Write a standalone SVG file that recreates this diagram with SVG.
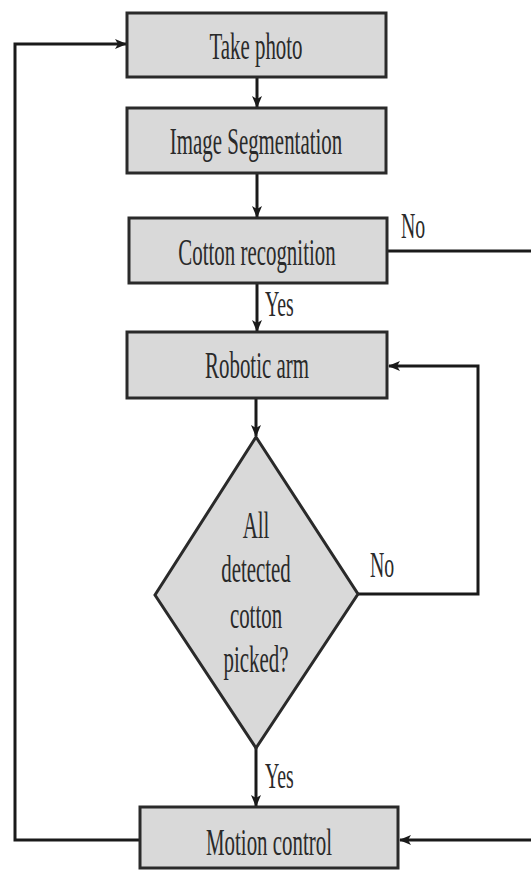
<svg xmlns="http://www.w3.org/2000/svg" width="531" height="870" viewBox="0 0 531 870">
<style>
.box{fill:#d9d9d9;stroke:#2a2a2a;stroke-width:3}
.lbl{font-family:"Liberation Serif","Times New Roman",serif;font-size:38px;fill:#2a2a2a;text-anchor:middle}
.sm{font-family:"Liberation Serif","Times New Roman",serif;font-size:36px;fill:#2a2a2a}
.ln{fill:none;stroke:#1a1a1a;stroke-width:3}
</style>
<defs>
<marker id="ah" viewBox="0 0 12 10" refX="11" refY="5" markerWidth="12" markerHeight="10" markerUnits="userSpaceOnUse" orient="auto">
<path d="M0,0 L12,5 L0,10 L3,5 Z" fill="#1a1a1a"/>
</marker>
</defs>
<g id="connectors">
<line class="ln" x1="257" y1="77" x2="257" y2="107" marker-end="url(#ah)"/>
<line class="ln" x1="257" y1="173" x2="257" y2="217" marker-end="url(#ah)"/>
<line class="ln" x1="257" y1="283" x2="257" y2="331" marker-end="url(#ah)"/>
<line class="ln" x1="256" y1="398" x2="256" y2="436" marker-end="url(#ah)"/>
<line class="ln" x1="256" y1="748" x2="256" y2="806" marker-end="url(#ah)"/>
<polyline class="ln" points="358,594 478,594 478,366 389,366" marker-end="url(#ah)"/>
<polyline class="ln" points="387,251 535,251 535,840 400,840" marker-end="url(#ah)"/>
<polyline class="ln" points="140,840 15,840 15,44 126,44" marker-end="url(#ah)"/>
<text class="sm" transform="translate(401,238) scale(0.55,1)">No</text>
<text class="sm" transform="translate(265,316) scale(0.55,1)">Yes</text>
<text class="sm" transform="translate(370,577) scale(0.55,1)">No</text>
<text class="sm" transform="translate(265,788) scale(0.55,1)">Yes</text>
</g>
<g id="take-photo">
<rect class="box" x="127" y="13" width="259" height="64"/>
<text class="lbl" transform="translate(256,59) scale(0.55,1)">Take photo</text>
</g>
<g id="image-segmentation">
<rect class="box" x="127" y="108" width="259" height="65"/>
<text class="lbl" transform="translate(256,154) scale(0.55,1)">Image Segmentation</text>
</g>
<g id="cotton-recognition">
<rect class="box" x="129" y="218" width="258" height="65"/>
<text class="lbl" transform="translate(257,265) scale(0.55,1)">Cotton recognition</text>
</g>
<g id="robotic-arm">
<rect class="box" x="127" y="332" width="260" height="66"/>
<text class="lbl" transform="translate(257,378) scale(0.55,1)">Robotic arm</text>
</g>
<g id="decision">
<polygon class="box" points="256,437 358,594 256,748 155,595"/>
<text class="lbl" transform="translate(256,538) scale(0.55,1)">All</text>
<text class="lbl" transform="translate(256,582) scale(0.55,1)">detected</text>
<text class="lbl" transform="translate(256,628) scale(0.55,1)">cotton</text>
<text class="lbl" transform="translate(256,672) scale(0.55,1)">picked?</text>
</g>
<g id="motion-control">
<rect class="box" x="140" y="807" width="258" height="61"/>
<text class="lbl" transform="translate(269,855) scale(0.55,1)">Motion control</text>
</g>
</svg>
